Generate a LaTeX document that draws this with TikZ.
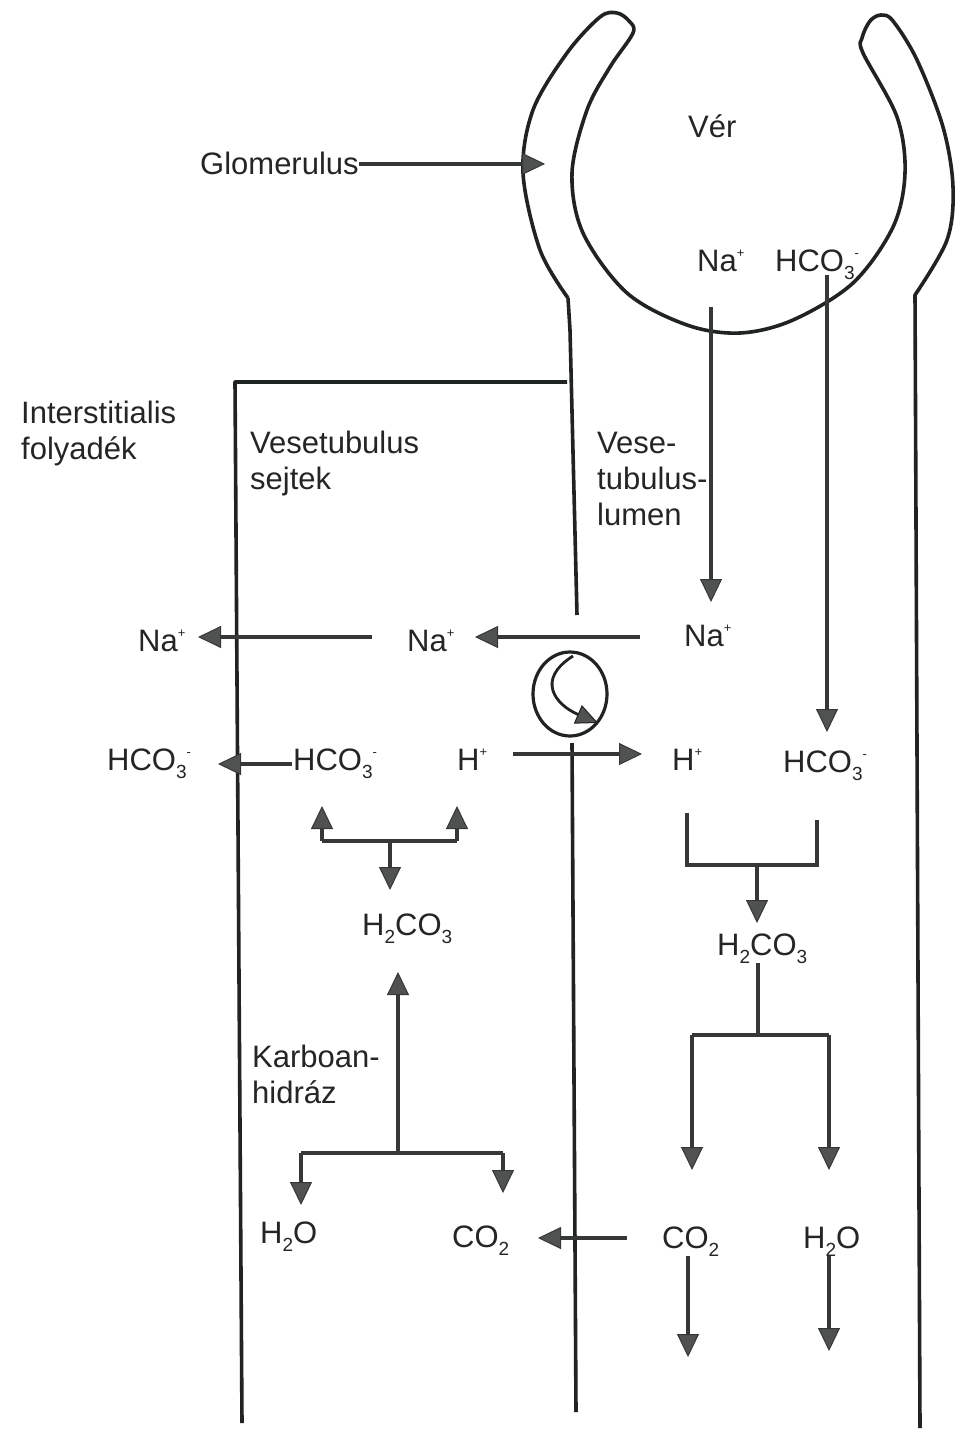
\documentclass[tikz,border=0pt]{standalone}
\usepackage{fontspec}
\setmainfont{Liberation Sans}
\usetikzlibrary{arrows.meta,shapes.geometric}
\definecolor{ink}{HTML}{1f2322}
\definecolor{arrink}{HTML}{363838}
\definecolor{tipfill}{HTML}{505251}
\definecolor{txt}{HTML}{252525}
\newcommand\lo[1]{\raisebox{-8pt}{\fontsize{19}{19}\selectfont #1}}
\newcommand\hi[1]{\raisebox{14pt}{\fontsize{13}{13}\selectfont #1}}
\begin{document}
\begin{tikzpicture}[x=1pt,y=-1pt,
  wall/.style={draw=ink, line width=3.6pt, line join=round},
  arr/.style={draw=arrink, line width=3.4pt, -{Triangle[length=23pt,width=22pt,fill=tipfill,color=arrink,line width=1pt]}},
  plainline/.style={draw=arrink, line width=3.4pt, line join=miter},
  lbl/.style={text=txt, font=\fontsize{31}{36}\selectfont, inner sep=0pt, anchor=base west, align=left},
]
\useasboundingbox[fill=white] (0,0) rectangle (967,1439);

% --- glomerulus outline and tubule walls ---
\draw[wall] (577,615) -- (570,330) -- (568,298)
  plot[smooth, tension=0.55] coordinates {(568,298) (540,250) (523,173) (533,110) (567,53) (600,17) (617,13) (629,21) (633,33)
   (610,67) (587,110) (572,173) (583,233) (627,293) (687,325) (740,333) (793,320) (853,283) (893,227) (905,173) (897,117) (863,53) (862,38) (870,21) (881,15) (893,21) (917,60) (943,127) (953,187) (947,240) (915,295)}
  -- (920,1428);
\draw[wall] (572,743) -- (576,1412);
\draw[wall] (567,382) -- (235,382) -- (242,1423);

% --- texts ---
\node[lbl] (glom) at (200,175) {Glomerulus};
\node[lbl] (ver) at (688,138) {Vér};
\node[lbl] (naV) at (697,272) {Na\hi{+}};
\node[lbl] (hcoV) at (775,272) {HCO\lo{3}\hi{-}};
\node[lbl] (interst) at (21,459) {Interstitialis\\folyadék};
\node[lbl] (sejt) at (250,489) {Vesetubulus\\sejtek};
\node[lbl] (lumen) at (597,525) {Vese-\\tubulus-\\lumen};
\node[lbl] (naL) at (138,651) {Na\hi{+}};
\node[lbl] (naM) at (407,651) {Na\hi{+}};
\node[lbl] (naR) at (684,646) {Na\hi{+}};
\node[lbl] (hcoL) at (107,770) {HCO\lo{3}\hi{-}};
\node[lbl] (hcoM) at (293,770) {HCO\lo{3}\hi{-}};
\node[lbl] (hM) at (457,770) {H\hi{+}};
\node[lbl] (hR) at (672,770) {H\hi{+}};
\node[lbl] (hcoR) at (783,772) {HCO\lo{3}\hi{-}};
\node[lbl] (hcM) at (362,935) {H\lo{2}CO\lo{3}};
\node[lbl] (karbo) at (252,1103) {Karboan-\\hidráz};
\node[lbl] (h2oL) at (260,1243) {H\lo{2}O};
\node[lbl] (co2M) at (452,1247) {CO\lo{2}};
\node[lbl] (hcR) at (717,955) {H\lo{2}CO\lo{3}};
\node[lbl] (co2R) at (662,1248) {CO\lo{2}};
\node[lbl] (h2oR) at (803,1248) {H\lo{2}O};

% --- coordinates for connectors ---
\coordinate (glomtip) at (545,163);
\coordinate (naTop) at (711,307);   \coordinate (naDown) at (711,602);
\coordinate (hcTop) at (827,275);   \coordinate (hcDown) at (827,732);
\coordinate (naRs) at (640,637);    \coordinate (naMt) at (475,637);
\coordinate (naMs) at (372,637);    \coordinate (naLt) at (198,637);
\coordinate (hMs) at (513,754);     \coordinate (hRt) at (642,754);
\coordinate (hcoMs) at (292,764);   \coordinate (hcoLt) at (218,764);
\coordinate (fL) at (322,841); \coordinate (fR) at (457,841); \coordinate (fC) at (390,841);
\coordinate (fLt) at (322,806); \coordinate (fRt) at (457,806); \coordinate (fCt) at (390,890);
\coordinate (upS) at (398,1153); \coordinate (upT) at (398,972);
\coordinate (gL) at (301,1153); \coordinate (gR) at (503,1153);
\coordinate (gLt) at (301,1205); \coordinate (gRt) at (503,1193);
\coordinate (co2s) at (627,1238); \coordinate (co2t) at (538,1238);
\coordinate (uA) at (687,813); \coordinate (uB) at (687,865); \coordinate (uC) at (817,865); \coordinate (uD) at (817,820);
\coordinate (uS) at (757,865); \coordinate (uT) at (757,923);
\coordinate (kS) at (758,963); \coordinate (kC) at (758,1035);
\coordinate (kL) at (692,1035); \coordinate (kR) at (829,1035);
\coordinate (kLt) at (692,1170); \coordinate (kRt) at (829,1170);
\coordinate (c2s) at (688,1256); \coordinate (c2t) at (688,1357);
\coordinate (h2s) at (829,1256); \coordinate (h2t) at (829,1351);

% --- connectors ---
\draw[arr] (glom.east) -- (glom.east -| glomtip);
\draw[arr] (naTop) -- (naDown);
\draw[arr] (hcTop) -- (hcDown);
\draw[arr] (naRs) -- (naMt);
\draw[arr] (naMs) -- (naLt);
\draw[arr] (hMs) -- (hRt);
\draw[arr] (hcoMs) -- (hcoLt);
\draw[plainline] (fL) -- (fR);
\draw[arr] (fL) -- (fLt);
\draw[arr] (fR) -- (fRt);
\draw[arr] (fC) -- (fCt);
\draw[arr] (upS) -- (upT);
\draw[plainline] (gL) -- (gR);
\draw[arr] (gL) -- (gLt);
\draw[arr] (gR) -- (gRt);
\draw[arr] (co2s) -- (co2t);
\draw[plainline] (uA) -- (uB) -- (uC) -- (uD);
\draw[arr] (uS) -- (uT);
\draw[plainline] (kS) -- (kC);
\draw[plainline] (kL) -- (kR);
\draw[arr] (kL) -- (kLt);
\draw[arr] (kR) -- (kRt);
\draw[arr] (c2s) -- (c2t);
\draw[arr] (h2s) -- (h2t);

% --- symporter ---
\node[draw=ink, line width=3.2pt, ellipse, minimum width=74pt, minimum height=84pt, inner sep=0pt] (sym) at (570,694) {};
\coordinate (symS) at (573,656); \coordinate (symT) at (598,723);
\draw[draw=ink, line width=2.8pt, -{Triangle[length=22pt,width=20pt,fill=tipfill,color=ink,line width=1pt]}]
  (symS) .. controls (535,680) and (556,705) .. (symT);
\end{tikzpicture}
\end{document}
